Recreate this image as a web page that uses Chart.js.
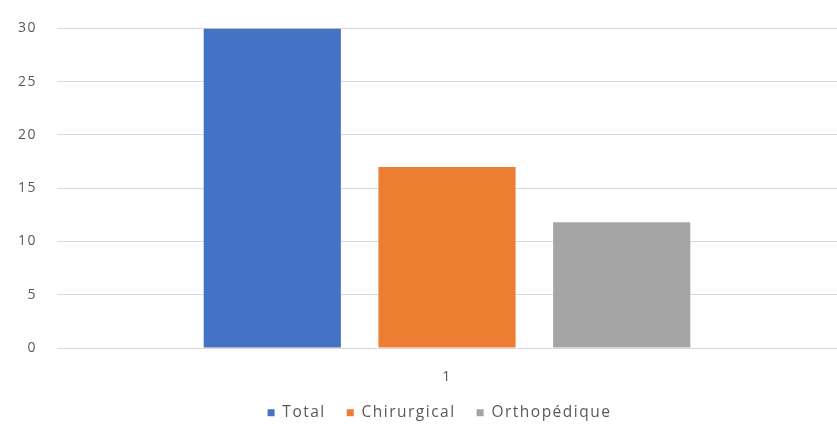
<!DOCTYPE html>
<html><head><meta charset="utf-8">
<script src="https://cdn.jsdelivr.net/npm/chart.js@4/dist/chart.umd.min.js"></script>
<style>html,body{margin:0;padding:0;background:#fff}#w{width:837px;height:433px}</style>
</head><body><div id="w"><canvas id="c"></canvas></div>
<script>
const categories = ["1"];
const seriesNames = ["Total", "Chirurgical", "Orthopédique"];
const totalValues = [30];
const chirurgicalValues = [17];
const orthopediqueValues = [11.8];
const yTicks = [0, 5, 10, 15, 20, 25, 30];
const colors = ["#4472C4", "#ED7D31", "#A5A5A5"];

const txt = "#595959";
const font = {family: "'Open Sans', 'Noto Sans', sans-serif", size: 14};
const lfont = {family: "'Open Sans', 'Noto Sans', sans-serif", size: 15.5};
const spacing = {
  id: 'spacing',
  beforeUpdate(c) { c.ctx.letterSpacing = '1.5px'; },
  beforeDraw(c) { c.ctx.letterSpacing = '1.5px'; },
  afterLayout(c) { if (c.legend) { c.legend.left += 18; c.legend.right += 18; } }
};
new Chart(document.getElementById('c'), {
  type: 'bar',
  plugins: [spacing],
  data: {
    labels: categories,
    datasets: [totalValues, chirurgicalValues, orthopediqueValues].map((d, i) => ({
      label: seriesNames[i], data: d, backgroundColor: colors[i],
      categoryPercentage: 0.672, barPercentage: 0.785
    }))
  },
  options: {
    responsive: true, maintainAspectRatio: false, animation: false,
    layout: {padding: {top: 8, left: -2, right: -8, bottom: 2.5}},
    plugins: {
      tooltip: {enabled: false},
      legend: {position: 'bottom', labels: {boxWidth: 7, boxHeight: 7, color: txt, font: lfont, padding: 21}}
    },
    scales: {
      x: {grid: {display: false, drawTicks: false}, border: {color: '#d9d9d9'},
          afterFit: a => { a.height = 36; },
          ticks: {color: txt, font: font, padding: 21}},
      y: {min: 0, max: 30, afterBuildTicks: a => { a.ticks = yTicks.map(v => ({value: v})); },
          grid: {color: '#d9d9d9', drawTicks: false}, border: {display: false},
          ticks: {color: txt, font: font, padding: 20}}
    }
  }
});
</script></body></html>
